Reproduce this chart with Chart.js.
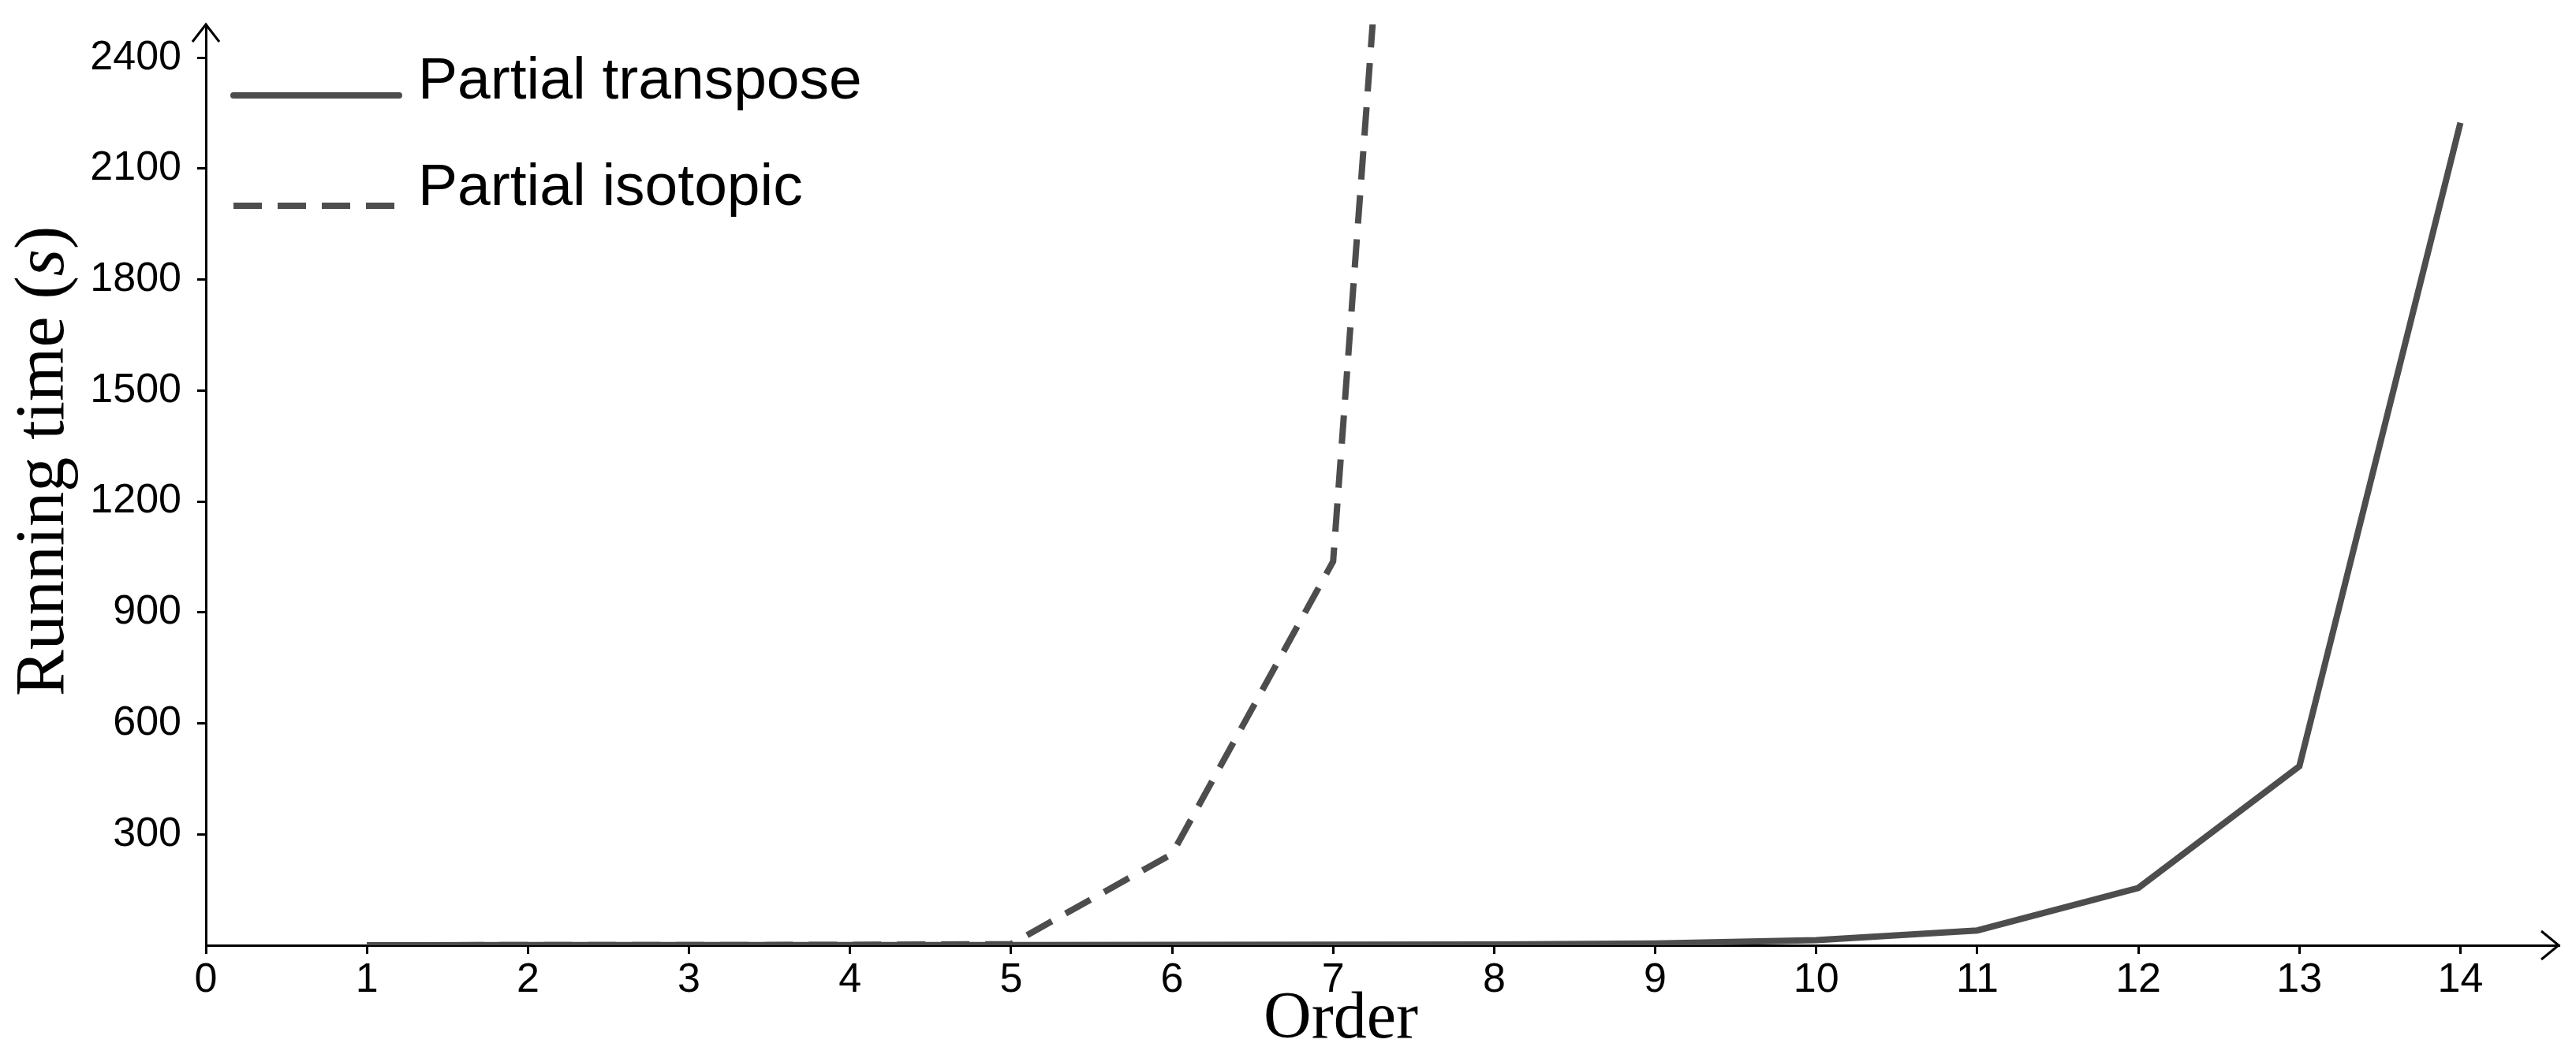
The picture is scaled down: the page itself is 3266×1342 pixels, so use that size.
<!DOCTYPE html>
<html>
<head>
<meta charset="utf-8">
<script src="https://cdn.jsdelivr.net/npm/chart.js@4.4.0/dist/chart.umd.min.js"></script>
<style>
html,body{margin:0;padding:0;background:#fff;}
#wrap{width:3266px;height:1342px;}
</style>
</head>
<body>
<div id="wrap"><canvas id="c" width="3266" height="1342"></canvas></div>
<script>
// ---- data ----
const transposeOrders = [1,2,3,4,5,6,7,8,9,10,11,12,13,14];
const transposeTimes  = [0.2,0.3,0.4,0.5,0.7,1,1.5,2,5,14,40,155,484,2224];
const isotopicOrders  = [1,2,3,4,5,6,7,8];
const isotopicTimes   = [0.2,0.3,0.5,1,3,247,1038,6960];
const xTickValues = [0,1,2,3,4,5,6,7,8,9,10,11,12,13,14];
const yTickValues = [300,600,900,1200,1500,1800,2100,2400];
const seriesLabels = ['Partial transpose','Partial isotopic'];
const xTitleText = 'Order';
const yTitleParts = ['Running time (', 's', ')'];
const xMin = 0, xMax = 14.61, yMin = 0, yMax = 2490;

const LINE = '#4d4d4d';

const toPts = (xs, ys) => xs.map((x, i) => ({x: x, y: ys[i]}));

const decorPlugin = {
  id: 'decor',
  afterDraw(chart) {
    const ctx = chart.ctx;
    const a = chart.chartArea;
    ctx.save();
    // axis arrows
    ctx.strokeStyle = '#000';
    ctx.lineWidth = 3;
    ctx.lineCap = 'butt';
    ctx.beginPath();
    ctx.moveTo(a.left - 17, a.top + 22);
    ctx.lineTo(a.left, a.top);
    ctx.lineTo(a.left + 17, a.top + 22);
    ctx.stroke();
    ctx.beginPath();
    ctx.moveTo(a.right - 22, a.bottom - 18);
    ctx.lineTo(a.right, a.bottom);
    ctx.lineTo(a.right - 22, a.bottom + 18);
    ctx.stroke();

    // legend
    const legY = [121, 261];
    const textY = [125, 260];
    chart.data.datasets.forEach((ds, i) => {
      ctx.strokeStyle = ds.borderColor;
      ctx.lineWidth = ds.borderWidth;
      ctx.setLineDash(ds.borderDash || []);
      ctx.lineCap = (ds.borderDash && ds.borderDash.length) ? 'butt' : 'round';
      ctx.beginPath();
      ctx.moveTo(296, legY[i]);
      ctx.lineTo(i === 0 ? 506 : 500, legY[i]);
      ctx.stroke();
      ctx.setLineDash([]);
      ctx.fillStyle = '#000';
      ctx.font = '75px "Liberation Sans", Arial, sans-serif';
      ctx.textAlign = 'left';
      ctx.textBaseline = 'alphabetic';
      ctx.fillText(ds.label, 530, textY[i]);
    });

    // y title (rotated), with italic s
    ctx.save();
    ctx.translate(80, 883);
    ctx.rotate(-Math.PI / 2);
    ctx.fillStyle = '#000';
    ctx.textBaseline = 'alphabetic';
    ctx.textAlign = 'left';
    let xpos = 0;
    yTitleParts.forEach((p, i) => {
      ctx.font = (i === 1 ? 'italic ' : '') + '88px "Liberation Serif", "Times New Roman", serif';
      ctx.fillText(p, xpos, 0);
      xpos += ctx.measureText(p).width;
    });
    ctx.restore();

    // x title
    ctx.fillStyle = '#000';
    ctx.font = '84px "Liberation Serif", "Times New Roman", serif';
    ctx.textAlign = 'center';
    ctx.textBaseline = 'alphabetic';
    ctx.fillText(xTitleText, 1700, 1316);
    ctx.restore();
  }
};

new Chart(document.getElementById('c'), {
  type: 'line',
  data: {
    datasets: [
      {
        label: seriesLabels[0],
        data: toPts(transposeOrders, transposeTimes),
        borderColor: LINE,
        borderWidth: 8,
        pointRadius: 0,
        tension: 0,
        fill: false,
        borderJoinStyle: 'miter',
        order: 1
      },
      {
        label: seriesLabels[1],
        data: toPts(isotopicOrders, isotopicTimes),
        borderColor: LINE,
        borderWidth: 8,
        borderDash: [36, 20],
        pointRadius: 0,
        tension: 0,
        fill: false,
        borderJoinStyle: 'miter',
        order: 2
      }
    ]
  },
  options: {
    responsive: false,
    animation: false,
    devicePixelRatio: 1,
    layout: { padding: { top: 31, right: 22, bottom: 0, left: 0 } },
    plugins: {
      legend: { display: false },
      tooltip: { enabled: false },
      title: { display: false }
    },
    scales: {
      x: {
        type: 'linear',
        min: xMin,
        max: xMax,
        z: 1,
        afterBuildTicks: s => { s.ticks = xTickValues.map(v => ({value: v})); },
        afterFit: s => { s.height = 143; s.paddingLeft = 0; s.paddingRight = 0; },
        ticks: {
          color: '#000',
          font: { family: '"Liberation Sans", Arial, sans-serif', size: 52 },
          padding: 2,
          maxRotation: 0,
          autoSkip: false,
          callback: v => String(v)
        },
        grid: { drawOnChartArea: false, drawTicks: true, tickLength: 11, color: '#000', lineWidth: 3 },
        border: { display: true, color: '#000', width: 3 },
        title: { display: false, text: xTitleText }
      },
      y: {
        type: 'linear',
        min: yMin,
        max: yMax,
        z: 1,
        afterBuildTicks: s => { s.ticks = yTickValues.map(v => ({value: v})); },
        afterFit: s => { s.width = 261; s.paddingTop = 0; s.paddingBottom = 0; },
        ticks: {
          color: '#000',
          font: { family: '"Liberation Sans", Arial, sans-serif', size: 52 },
          padding: 20,
          autoSkip: false,
          callback: v => String(v)
        },
        grid: { drawOnChartArea: false, drawTicks: true, tickLength: 11, color: '#000', lineWidth: 3 },
        border: { display: true, color: '#000', width: 3 },
        title: { display: false, text: yTitleParts.join('') }
      }
    }
  },
  plugins: [decorPlugin]
});
</script>
</body>
</html>
